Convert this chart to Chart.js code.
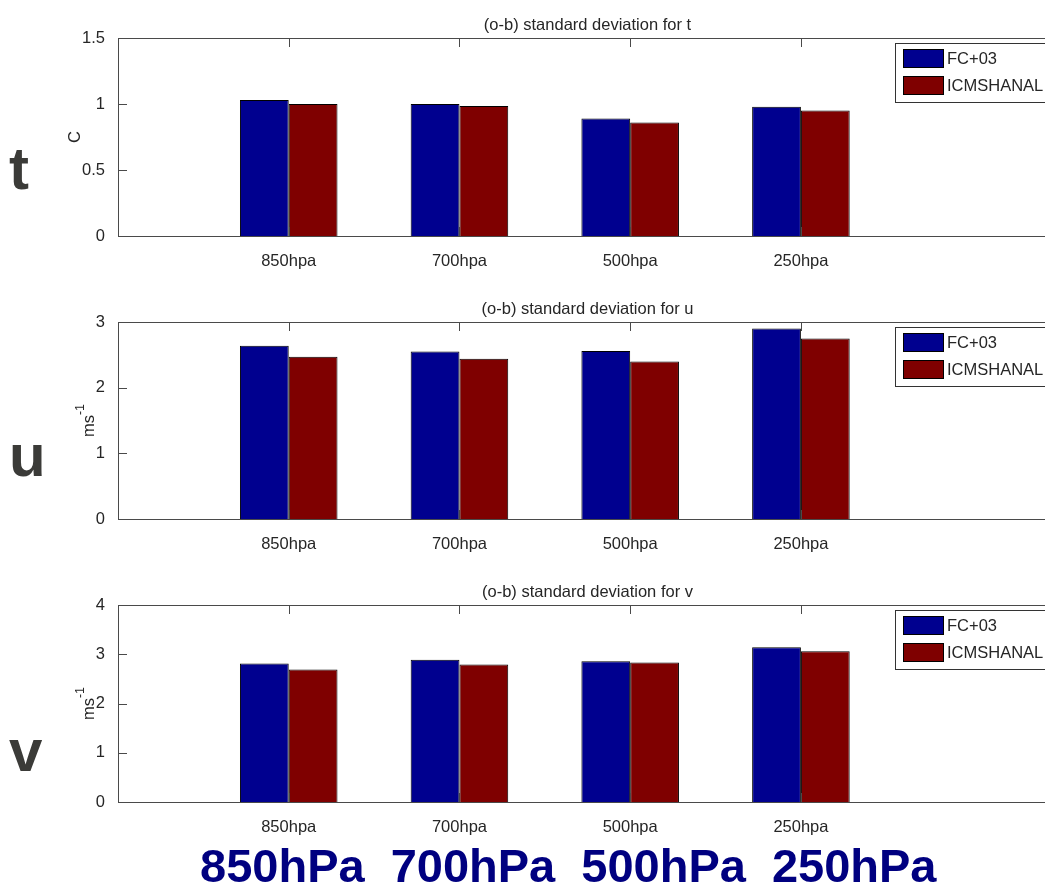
<!DOCTYPE html>
<html>
<head>
<meta charset="utf-8">
<title>(o-b) standard deviation</title>
<script src="https://cdn.jsdelivr.net/npm/chart.js@4.4.1/dist/chart.umd.min.js"></script>
<style>
  html, body { margin: 0; padding: 0; background: #fff; width: 1045px; height: 888px; overflow: hidden; }
  body { position: relative; font-family: 'Liberation Sans', Arial, sans-serif; }
  canvas { position: absolute; left: 0; }
  .var { position: absolute; left: 9px; font-weight: bold; font-size: 60px; line-height: 60px; color: #3b3b38; }
  .levels { position: absolute; left: 200px; top: 842px; display: flex; gap: 26px;
            font-weight: bold; font-size: 47px; line-height: 47px; color: #000080; }
</style>
</head>
<body>
<canvas id="chartT" width="1060" height="280" style="top:0px"></canvas>
<canvas id="chartU" width="1060" height="280" style="top:280px"></canvas>
<canvas id="chartV" width="1060" height="280" style="top:560px"></canvas>
<div class="var" style="top:139px">t</div>
<div class="var" style="top:426px">u</div>
<div class="var" style="top:721px">v</div>
<div class="levels" id="levels"></div>

<script>
// pressure levels and the two runs being compared
const levels = ['850hpa', '700hpa', '500hpa', '250hpa'];
const seriesNames = ['FC+03', 'ICMSHANAL'];

// (o-b) standard deviation per level
const tFc = [1.03, 1.00, 0.89, 0.98];
const tAnal = [1.00, 0.985, 0.86, 0.95];
const uFc = [2.64, 2.55, 2.56, 2.90];
const uAnal = [2.47, 2.44, 2.40, 2.75];
const vFc = [2.81, 2.89, 2.86, 3.14];
const vAnal = [2.69, 2.79, 2.83, 3.06];

// y tick labels for each panel
const tTicks = [0, 0.5, 1, 1.5];
const uTicks = [0, 1, 2, 3];
const vTicks = [0, 1, 2, 3, 4];

const bannerLevels = ['850hPa', '700hPa', '500hPa', '250hPa'];

const FONT = "'Liberation Sans', Arial, sans-serif";
const TEXT = '#262626';
const AXIS = '#4a4a4a';
const COLORS = ['#00008f', '#7f0000'];

document.getElementById('levels').innerHTML = bannerLevels.map(l => '<span>' + l + '</span>').join('');

// matlab-like box: frame, inward ticks, rotated unit label and framed legend
const matlabAxes = {
    id: 'matlabAxes',
    afterDraw(chart, args, opts) {
        const ctx = chart.ctx;
        const a = chart.chartArea;
        const xs = chart.scales.x, ys = chart.scales.y;
        const tick = 9;
        ctx.save();
        ctx.strokeStyle = AXIS;
        ctx.lineWidth = 1;
        ctx.beginPath();
        ctx.rect(Math.round(a.left) + 0.5, Math.round(a.top) + 0.5, Math.round(a.right - a.left), Math.round(a.bottom - a.top));
        xs.ticks.forEach(t => {
            const px = Math.round(xs.getPixelForValue(t.value)) + 0.5;
            ctx.moveTo(px, a.top); ctx.lineTo(px, a.top + tick);
            ctx.moveTo(px, a.bottom); ctx.lineTo(px, a.bottom - tick);
        });
        ys.ticks.forEach(t => {
            const py = Math.round(ys.getPixelForValue(t.value)) + 0.5;
            ctx.moveTo(a.left, py); ctx.lineTo(a.left + tick, py);
            ctx.moveTo(a.right, py); ctx.lineTo(a.right - tick, py);
        });
        ctx.stroke();

        // unit label, placed left of the widest tick label
        ctx.font = '16.5px ' + FONT;
        const labelW = Math.max(...ys.ticks.map(t => ctx.measureText(t.label).width));
        const bx = a.left - 5 - labelW - 10;
        const cy = (a.top + a.bottom) / 2;
        ctx.fillStyle = TEXT;
        ctx.translate(bx, cy);
        ctx.rotate(-Math.PI / 2);
        const mainW = ctx.measureText(opts.unit).width;
        ctx.font = '12.5px ' + FONT;
        const supW = opts.sup ? ctx.measureText(opts.sup).width : 0;
        const start = -(mainW + supW) / 2;
        ctx.textBaseline = 'alphabetic';
        ctx.textAlign = 'left';
        ctx.font = '16.5px ' + FONT;
        ctx.fillText(opts.unit, start, 0);
        if (opts.sup) {
            ctx.font = '12.5px ' + FONT;
            ctx.fillText(opts.sup, start + mainW, -10);
        }
        ctx.setTransform(1, 0, 0, 1, 0, 0);

        // legend box in the top right corner
        ctx.font = '16.5px ' + FONT;
        const ds = chart.data.datasets;
        const textW = Math.max(...ds.map(d => ctx.measureText(d.label).width));
        const w = 8 + 40 + 4 + textW + 9;
        const lx = a.right - 5 - w;
        const ly = a.top + 5;
        ctx.fillStyle = '#fff';
        ctx.fillRect(lx, ly, w, 59);
        ctx.strokeStyle = '#333';
        ctx.strokeRect(Math.round(lx) + 0.5, Math.round(ly) + 0.5, Math.round(w), 59);
        ds.forEach((d, i) => {
            const sy = Math.round(ly) + 6 + i * 27;
            ctx.fillStyle = d.backgroundColor;
            ctx.fillRect(Math.round(lx) + 8, sy, 40, 18);
            ctx.strokeStyle = '#000';
            ctx.strokeRect(Math.round(lx) + 8.5, sy + 0.5, 40, 18);
            ctx.fillStyle = TEXT;
            ctx.textBaseline = 'middle';
            ctx.fillText(d.label, Math.round(lx) + 52, sy + 10);
        });
        ctx.restore();
    }
};

function makePanel(id, title, fc, anal, yTicks, unit, sup, axisTop, axisBottom) {
    const canvas = document.getElementById(id);
    const toData = vals => vals.map((v, i) => ({ x: i + 1, y: v }));
    return new Chart(canvas, {
        type: 'bar',
        data: {
            datasets: [
                { label: seriesNames[0], data: toData(fc), backgroundColor: COLORS[0] },
                { label: seriesNames[1], data: toData(anal), backgroundColor: COLORS[1] }
            ]
        },
        options: {
            responsive: false,
            animation: false,
            devicePixelRatio: 1,
            layout: { padding: { left: 0, right: 3, top: 0, bottom: 0 } },
            datasets: {
                bar: {
                    categoryPercentage: 4 / 7,
                    barPercentage: 1,
                    borderWidth: 1,
                    borderColor: '#000',
                    borderSkipped: 'bottom'
                }
            },
            scales: {
                x: {
                    type: 'linear',
                    min: 0,
                    max: 5.5,
                    offset: false,
                    grid: { display: false },
                    border: { display: false },
                    afterBuildTicks: s => { s.ticks = levels.map((_, i) => ({ value: i + 1 })); },
                    afterFit: s => { s.height = canvas.height - axisBottom; },
                    ticks: {
                        padding: 8,
                        maxRotation: 0,
                        autoSkip: false,
                        color: TEXT,
                        font: { family: FONT, size: 16.5 },
                        callback: v => levels[Math.round(v) - 1]
                    }
                },
                y: {
                    min: yTicks[0],
                    max: yTicks[yTicks.length - 1],
                    grid: { display: false },
                    border: { display: false },
                    afterBuildTicks: s => { s.ticks = yTicks.map(v => ({ value: v })); },
                    afterFit: s => { s.width = 118; },
                    ticks: {
                        padding: 5,
                        color: TEXT,
                        font: { family: FONT, size: 16.5 },
                        callback: v => String(v)
                    }
                }
            },
            plugins: {
                legend: { display: false },
                tooltip: { enabled: false },
                title: {
                    display: true,
                    text: title,
                    fullSize: false,
                    color: TEXT,
                    font: { family: FONT, size: 16.5, weight: 'normal' },
                    padding: { top: axisTop - 22.9, bottom: 3.1 }
                },
                matlabAxes: { unit: unit, sup: sup }
            }
        },
        plugins: [matlabAxes]
    });
}

makePanel('chartT', '(o-b) standard deviation for t', tFc, tAnal, tTicks, 'C', '', 38, 236);
makePanel('chartU', '(o-b) standard deviation for u', uFc, uAnal, uTicks, 'ms', '-1', 42, 239);
makePanel('chartV', '(o-b) standard deviation for v', vFc, vAnal, vTicks, 'ms', '-1', 45, 242);
</script>
</body>
</html>
